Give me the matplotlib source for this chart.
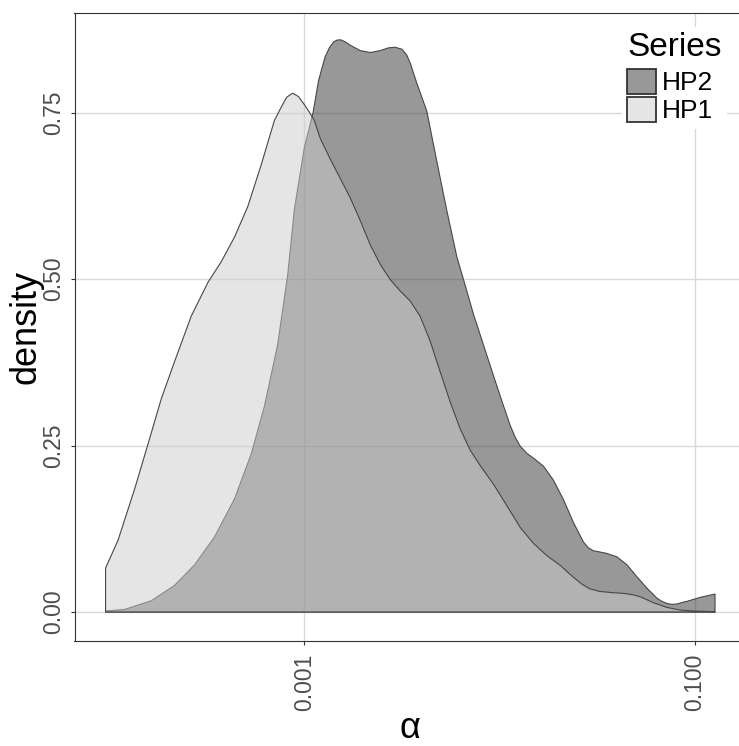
import numpy as np
import matplotlib.pyplot as plt
from matplotlib.patches import Patch

plt.rcParams['font.family'] = ['Liberation Sans', 'DejaVu Sans']

# density curves, x given as log10(alpha)
hp1_log_alpha = [-4.017, -3.953, -3.868, -3.800, -3.732, -3.664, -3.579, -3.493,
                 -3.425, -3.357, -3.289, -3.221, -3.153, -3.120, -3.090, -3.060,
                 -3.030, -3.000, -2.975, -2.949, -2.918, -2.867, -2.816, -2.765,
                 -2.714, -2.662, -2.611, -2.560, -2.509, -2.458, -2.407, -2.356,
                 -2.305, -2.253, -2.202, -2.151, -2.100, -2.032, -1.964, -1.895,
                 -1.827, -1.760, -1.690, -1.622, -1.580, -1.540, -1.490, -1.420,
                 -1.367, -1.320, -1.281, -1.213, -1.145, -1.077, -1.009, -0.898]
hp1_density = [0.066, 0.108, 0.185, 0.252, 0.320, 0.376, 0.444, 0.495,
               0.526, 0.563, 0.609, 0.671, 0.738, 0.757, 0.773, 0.779,
               0.774, 0.762, 0.751, 0.738, 0.711, 0.680, 0.651, 0.622,
               0.588, 0.551, 0.522, 0.499, 0.482, 0.467, 0.444, 0.407,
               0.361, 0.315, 0.275, 0.243, 0.220, 0.192, 0.160, 0.127,
               0.103, 0.085, 0.070, 0.052, 0.042, 0.035, 0.031, 0.029,
               0.028, 0.026, 0.023, 0.014, 0.007, 0.003, 0.0015, 0.0005]

hp2_log_alpha = [-4.017, -3.919, -3.783, -3.664, -3.561, -3.459, -3.357, -3.272,
                 -3.204, -3.136, -3.085, -3.051, -3.000, -2.955, -2.927, -2.893,
                 -2.870, -2.850, -2.830, -2.812, -2.790, -2.765, -2.714, -2.662,
                 -2.611, -2.570, -2.535, -2.500, -2.475, -2.455, -2.440, -2.424,
                 -2.373, -2.322, -2.270, -2.219, -2.185, -2.134, -2.083, -2.032,
                 -1.981, -1.946, -1.920, -1.895, -1.860, -1.827, -1.776, -1.725,
                 -1.674, -1.622, -1.571, -1.545, -1.520, -1.485, -1.452, -1.401,
                 -1.349, -1.298, -1.247, -1.196, -1.170, -1.145, -1.120, -1.094,
                 -1.070, -1.042, -0.974, -0.898]
hp2_density = [0.0015, 0.004, 0.017, 0.040, 0.071, 0.113, 0.170, 0.237,
               0.309, 0.402, 0.506, 0.604, 0.697, 0.750, 0.798, 0.834,
               0.848, 0.856, 0.859, 0.859, 0.856, 0.851, 0.843, 0.840,
               0.843, 0.847, 0.848, 0.845, 0.836, 0.822, 0.808, 0.794,
               0.752, 0.677, 0.602, 0.533, 0.499, 0.447, 0.401, 0.355,
               0.310, 0.280, 0.262, 0.249, 0.238, 0.231, 0.219, 0.198,
               0.169, 0.134, 0.105, 0.096, 0.092, 0.090, 0.088, 0.083,
               0.071, 0.053, 0.036, 0.021, 0.016, 0.013, 0.0115, 0.012,
               0.014, 0.016, 0.022, 0.027]

series_names = ['HP2', 'HP1']
x_ticks = [0.001, 0.1]
x_tick_labels = ['0.001', '0.100']
y_ticks = [0.0, 0.25, 0.50, 0.75]
y_tick_labels = ['0.00', '0.25', '0.50', '0.75']

fill_hp2 = (0.2, 0.2, 0.2, 0.5)   # grey20, alpha .5
fill_hp1 = (0.8, 0.8, 0.8, 0.5)   # grey80, alpha .5
outline = '#474747'

fig = plt.figure(figsize=(7.39, 7.46), dpi=100)
ax = fig.add_axes([74.5 / 739, 105 / 746, 671 / 739, 628.4 / 746])


def closed(xs, ys):
    x = np.power(10.0, np.asarray(xs))
    y = np.asarray(ys)
    return np.r_[x[0], x, x[-1]], np.r_[0.0, y, 0.0]


x2, y2 = closed(hp2_log_alpha, hp2_density)
x1, y1 = closed(hp1_log_alpha, hp1_density)
ax.fill(x2, y2, facecolor=fill_hp2, edgecolor=outline, linewidth=0.8,
        joinstyle='round', zorder=2)
ax.fill(x1, y1, facecolor=fill_hp1, edgecolor=outline, linewidth=0.8,
        joinstyle='round', zorder=3)

ax.set_xscale('log')
ax.set_xlim(10 ** -4.176, 10 ** -0.742)
ax.set_ylim(-0.0435, 0.90)
ax.set_xticks(x_ticks)
ax.set_xticklabels(x_tick_labels)
ax.set_yticks(y_ticks)
ax.set_yticklabels(y_tick_labels)
ax.minorticks_off()

ax.grid(True, color='#d9d9d9', linewidth=1.0, zorder=1)
ax.set_axisbelow(True)
for s in ax.spines.values():
    s.set_color('#333333')
    s.set_linewidth(0.8)

ax.tick_params(direction='out', length=3, width=0.8, color='#333333',
               labelcolor='#4d4d4d', labelsize=16.5)
ax.tick_params(axis='x', labelrotation=90, pad=6)
ax.tick_params(axis='y', labelrotation=90, pad=4)
for lab in ax.get_yticklabels():
    lab.set_va('center')

ax.set_xlabel('α', fontsize=26)
ax.xaxis.set_label_coords(0.5, -0.155)
ax.xaxis.label.set_va('baseline')
ax.set_ylabel('density', fontsize=26)
ax.yaxis.set_label_coords(-0.073, 0.5)
ax.yaxis.label.set_va('center')

handles = [Patch(facecolor=fill_hp2, edgecolor='#333333', linewidth=1.3),
           Patch(facecolor=fill_hp1, edgecolor='#333333', linewidth=1.3)]
leg = ax.legend(handles, series_names, title='Series', loc='upper right',
                bbox_to_anchor=(727 / 739, 719 / 746), bbox_transform=fig.transFigure,
                fontsize=19, title_fontsize=24, frameon=True, facecolor='white',
                edgecolor='none', framealpha=1, fancybox=False, borderaxespad=0,
                borderpad=0.2, handlelength=1.1, handleheight=1.1,
                handletextpad=0.22, labelspacing=0.05, alignment='left')
leg._legend_box.sep = 4
leg.set_zorder(5)

fig.savefig('out.png', dpi=100)
